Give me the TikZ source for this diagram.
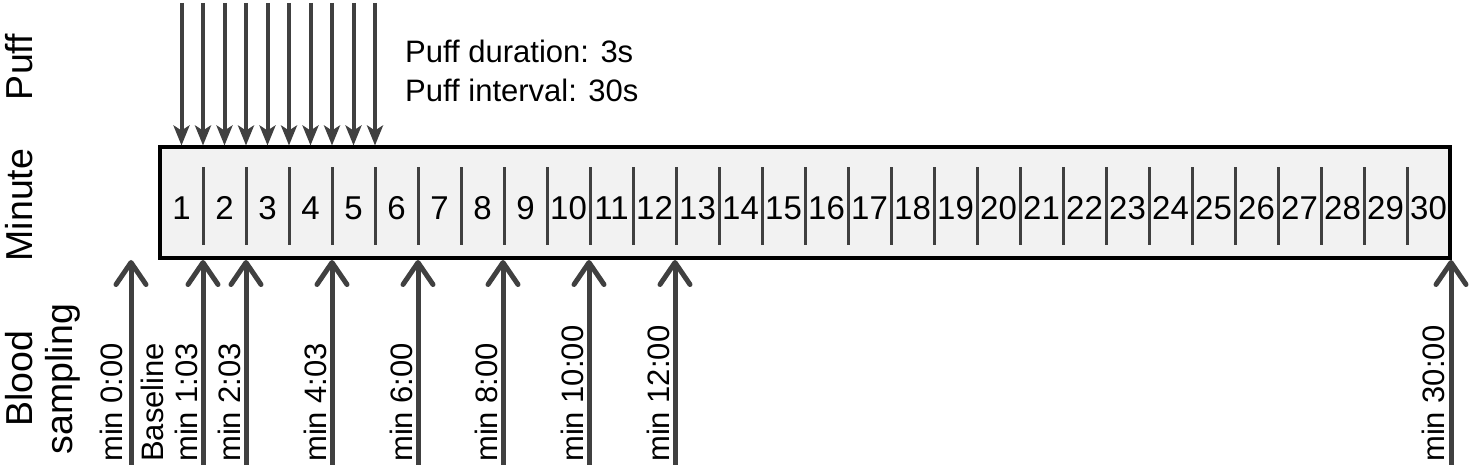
\documentclass[tikz,border=0pt]{standalone}
\usepackage{fontspec}
\setmainfont{Liberation Sans}
\usetikzlibrary{arrows.meta}
\definecolor{gris}{HTML}{404040}
\definecolor{fond}{HTML}{F2F2F2}
\tikzset{
  texte/.style={inner sep=0pt, font=\fontsize{31}{37}\selectfont},
  chiffre/.style={inner sep=0pt, font=\fontsize{33}{37}\selectfont},
  titre/.style={inner sep=0pt, font=\fontsize{37.5}{40}\selectfont, rotate=90},
  bouffee/.style={gris, line width=4pt, -{Stealth[length=20pt,width=16pt,inset=5pt]}},
  prise/.style={gris, line width=5pt, -{Straight Barb[length=22pt,width=30pt,round]}}
}

\begin{document}
\begin{tikzpicture}[x=1pt,y=1pt]
\useasboundingbox (0,0) rectangle (1471,465);

% Titres des lignes
\node[titre, anchor=base] (tpuff) at (32,398) {Puff};
\node[titre, anchor=base] (tminute) at (32,260) {Minute};
\node[titre, align=center] (tsang) at (42.5,86) {Blood\\sampling};

% Grille des minutes
\node[draw, line width=4pt, fill=fond, minimum width=1290pt, minimum height=110.5pt, inner sep=0pt] (grille) at (805,262.25) {};
\foreach \k in {1,...,29}
  \draw[gris, line width=3pt] ({160+43*\k},220) -- ({160+43*\k},298);
\foreach \k in {1,...,30}
  \node[chiffre, anchor=base] (m\k) at ({160+43*\k-21.5},245) {\k};

% Bouffees
\foreach \k in {1,...,10}{
  \coordinate (b\k) at ({160+21.5*\k},462);
  \draw[bouffee] (b\k) -- (b\k |- grille.north);
}
\node[texte, anchor=base west] (duree) at (405,402) {Puff duration: 3s};
\node[texte, anchor=base west] (intervalle) at (405,363.5) {Puff interval: 30s};

% Prises de sang
\foreach \x/\y/\t [count=\i] in {131/122/min 0:00, 203/197/min 1:03, 246/240/min 2:03,
    332/326/min 4:03, 418/412/min 6:00, 503/497/min 8:00, 589/583/min 10:00,
    675/669/min 12:00, 1451/1444/min 30:00}{
  \coordinate (s\i) at (\x,0);
  \draw[prise] (s\i) -- (s\i |- grille.south);
  \node[texte, rotate=90, anchor=base west] (l\i) at (\y,3) {\t};
}
\node[texte, rotate=90, anchor=base west] (ref) at (163,3) {Baseline};
\end{tikzpicture}
\end{document}
